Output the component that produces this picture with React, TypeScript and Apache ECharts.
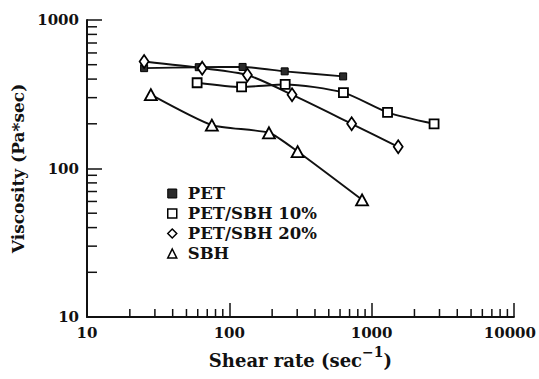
import React, { useEffect, useRef } from "react";
import * as echarts from "echarts";

const petX = [25.2, 61, 124, 245, 631];
const petY = [474, 481, 483, 451, 417];
const sbh10X = [59.4, 122, 247, 634, 1294, 2748];
const sbh10Y = [378, 354, 368, 324, 239, 200];
const sbh20X = [25.2, 64.5, 134, 276, 724, 1538];
const sbh20Y = [525, 474, 426, 314, 200, 140];
const sbhX = [28.1, 75.4, 190, 302, 857];
const sbhY = [314, 196, 174, 130, 61.5];

const xMinorTicks = [20, 30, 40, 50, 60, 70, 80, 90, 200, 300, 400, 500, 600, 700, 800, 900, 2000, 3000, 4000, 5000, 6000, 7000, 8000, 9000];
const yMinorTicks = [20, 30, 40, 50, 60, 70, 80, 90, 200, 300, 400, 500, 600, 700, 800, 900];

const SERIF = "DejaVu Serif";

const zip = (xs: number[], ys: number[]) => xs.map((x, i) => [x, ys[i]]);

export default function App() {
  const ref = useRef<HTMLDivElement>(null);
  useEffect(() => {
    document.body.style.margin = "0";
    if (!ref.current) return;
    const chart = echarts.init(ref.current, undefined, { renderer: "svg" });
    const lineStyle = { color: "#111", width: 1.9 };
    const openItem = { color: "#fff", borderColor: "#000", borderWidth: 1.8 };
    const labelFont = { fontFamily: SERIF, fontWeight: "bold", fontSize: 15, color: "#111" };
    chart.setOption({
      animation: false,
      backgroundColor: "#fff",
      grid: { left: 87, right: 23, top: 20, bottom: 62, containLabel: false },
      legend: {
        orient: "vertical",
        left: 162,
        top: 180,
        itemWidth: 9,
        itemHeight: 9,
        itemGap: 3,
        selectedMode: false,
        textStyle: { fontFamily: SERIF, fontWeight: "bold", fontSize: 16.5, color: "#111", lineHeight: 16, padding: [0, 0, 0, 6] },
        data: [
          { name: "PET", icon: "rect", itemStyle: { color: "#2a2a2a", borderColor: "#000", borderWidth: 1 } },
          { name: "PET/SBH 10%", icon: "rect", itemStyle: { color: "#fff", borderColor: "#000", borderWidth: 1.5 } },
          { name: "PET/SBH 20%", icon: "diamond", itemStyle: { color: "#fff", borderColor: "#000", borderWidth: 1.5 } },
          { name: "SBH", icon: "triangle", itemStyle: { color: "#fff", borderColor: "#000", borderWidth: 1.5 } },
        ],
      },
      xAxis: {
        type: "log",
        logBase: 10,
        min: 10,
        max: 10000,
        name: "{a|Shear rate (sec}{s|−1}{a|)}",
        nameLocation: "middle",
        nameGap: 16,
        nameTextStyle: {
          rich: {
            a: { fontFamily: SERIF, fontWeight: "bold", fontSize: 18, color: "#111", verticalAlign: "bottom", lineHeight: 25 },
            s: { fontFamily: SERIF, fontWeight: "bold", fontSize: 14, color: "#111", verticalAlign: "top", lineHeight: 25 },
          },
        },
        axisLine: { lineStyle: { color: "#111", width: 2 } },
        axisTick: { inside: true, length: 14, lineStyle: { color: "#111", width: 1.5 } },
        axisLabel: {
          ...labelFont,
          margin: 8,
          formatter: (v: number) => (v >= 10000 ? "{m|" + String(v) + "}" : String(v)),
          rich: { m: { ...labelFont, padding: [0, 8, 0, 0] } },
        },
        splitLine: { show: false },
        minorTick: { show: false },
      },
      yAxis: {
        type: "log",
        logBase: 10,
        min: 10,
        max: 1000,
        name: "Viscosity (Pa*sec)",
        nameLocation: "middle",
        nameRotate: 90,
        nameGap: 54,
        nameTextStyle: { fontFamily: SERIF, fontWeight: "bold", fontSize: 17, color: "#111" },
        axisLine: { lineStyle: { color: "#111", width: 2 } },
        axisTick: { inside: true, length: 15, lineStyle: { color: "#111", width: 1.5 } },
        axisLabel: { ...labelFont, margin: 8, formatter: (v: number) => String(v) },
        splitLine: { show: false },
      },
      series: [
        {
          name: "PET",
          type: "line",
          data: zip(petX, petY),
          smooth: 0.2,
          symbol: "rect",
          symbolSize: 7,
          itemStyle: { color: "#2a2a2a", borderColor: "#000", borderWidth: 1 },
          lineStyle,
          z: 3,
        },
        {
          name: "PET/SBH 10%",
          type: "line",
          data: zip(sbh10X, sbh10Y),
          smooth: 0.25,
          symbol: "rect",
          symbolSize: 9,
          itemStyle: openItem,
          lineStyle,
          z: 3,
        },
        {
          name: "PET/SBH 20%",
          type: "line",
          data: zip(sbh20X, sbh20Y),
          smooth: 0.25,
          symbol: "diamond",
          symbolSize: [9, 13],
          itemStyle: openItem,
          lineStyle,
          z: 3,
        },
        {
          name: "SBH",
          type: "line",
          data: zip(sbhX, sbhY),
          smooth: 0.2,
          symbol: "triangle",
          symbolSize: [12, 11],
          itemStyle: openItem,
          lineStyle,
          z: 3,
        },
        {
          name: "xminor",
          type: "custom",
          silent: true,
          clip: false,
          data: xMinorTicks.map((v) => [v, 10]),
          renderItem: (_p: any, api: any) => {
            const pt = api.coord([api.value(0), 10]);
            return {
              type: "line",
              shape: { x1: pt[0], y1: pt[1], x2: pt[0], y2: pt[1] - 8 },
              style: { stroke: "#111", lineWidth: 1.5 },
            };
          },
          z: 2,
        },
        {
          name: "yminor",
          type: "custom",
          silent: true,
          clip: false,
          data: yMinorTicks.map((v) => [10, v]),
          renderItem: (_p: any, api: any) => {
            const pt = api.coord([10, api.value(1)]);
            return {
              type: "line",
              shape: { x1: pt[0], y1: pt[1], x2: pt[0] + 10, y2: pt[1] },
              style: { stroke: "#111", lineWidth: 1.5 },
            };
          },
          z: 2,
        },
      ],
    });
    return () => chart.dispose();
  }, []);
  return <div ref={ref} style={{ width: 539, height: 379 }} />;
}
